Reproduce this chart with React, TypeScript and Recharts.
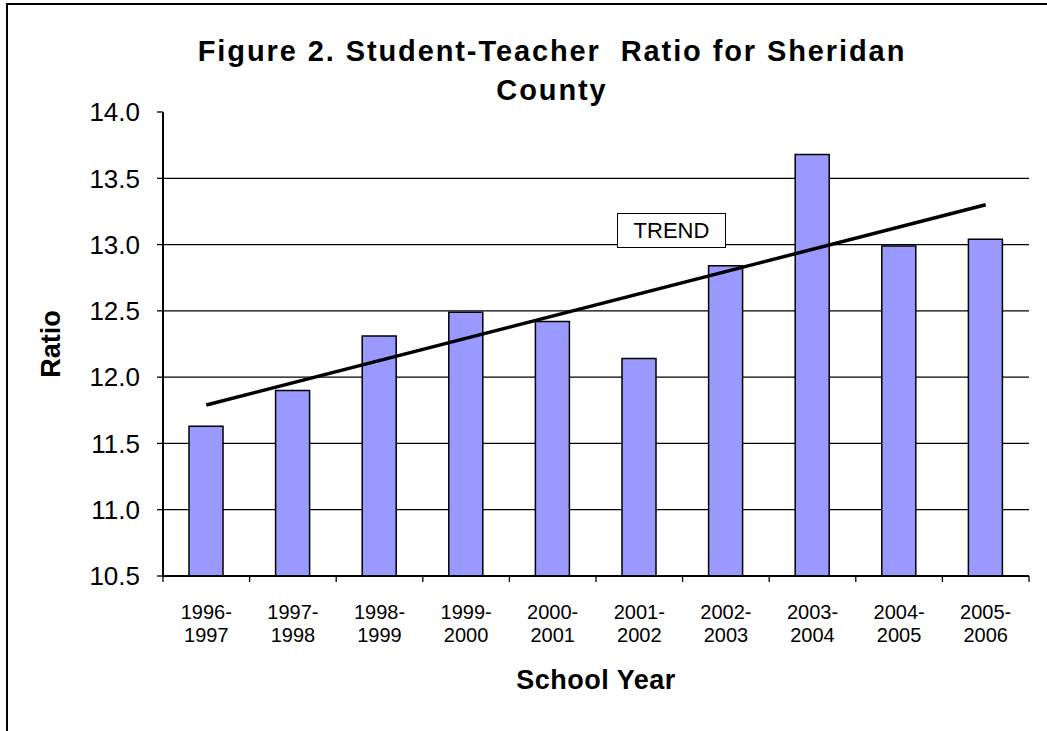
import React from 'react';
import { ComposedChart, Bar, Line, XAxis, YAxis, CartesianGrid } from 'recharts';

// school years
const years = [
  '1996-1997', '1997-1998', '1998-1999', '1999-2000', '2000-2001',
  '2001-2002', '2002-2003', '2003-2004', '2004-2005', '2005-2006',
];
const ratios = [11.63, 11.9, 12.31, 12.49, 12.42, 12.14, 12.84, 13.68, 12.99, 13.04];
// trend line: only the two ends are read, the line joins them
const trend = [11.79, null, null, null, null, null, null, null, null, 13.3];
const yTicks = [10.5, 11, 11.5, 12, 12.5, 13, 13.5, 14];
const gridValues = [11, 11.5, 12, 12.5, 13, 13.5];

const data = years.map((y, i) => ({ year: y, ratio: ratios[i], trend: trend[i] }));

const FONT = "'Liberation Sans', Arial, sans-serif";

// two-line year label, plus the tick marks between categories
const YearTick = (props: any) => {
  const { x, y, payload, index, visibleTicksCount } = props;
  const parts = String(payload.value).split('-');
  const half = payload.offset || 0;
  const last = visibleTicksCount ? index === visibleTicksCount - 1 : index === years.length - 1;
  return (
    <g>
      {half > 0 && <line x1={x - half} x2={x - half} y1={y - 8} y2={y - 2} stroke="#000" strokeWidth={1.3} />}
      {half > 0 && last && (
        <line x1={x + half} x2={x + half} y1={y - 8} y2={y - 2} stroke="#000" strokeWidth={1.3} />
      )}
      <text x={x} y={y} textAnchor="middle" fill="#000" fontSize={20}>
        <tspan x={x} dy={35}>{parts[0] + '-'}</tspan>
        <tspan x={x} dy={23}>{parts[1]}</tspan>
      </text>
    </g>
  );
};

export default function App() {
  return (
    <div
      style={{
        position: 'absolute',
        left: 0,
        top: 0,
        width: 1047,
        height: 731,
        background: '#fff',
        fontFamily: FONT,
        overflow: 'hidden',
      }}
    >
      {/* outer frame, only top and left edges show */}
      <div
        style={{
          position: 'absolute',
          left: 6,
          top: 3,
          width: 1045,
          height: 800,
          borderTop: '2px solid #000',
          borderLeft: '2px solid #000',
        }}
      />
      <div
        style={{
          position: 'absolute',
          left: 52,
          top: 32,
          width: 1000,
          textAlign: 'center',
          fontSize: 29,
          lineHeight: '39px',
          fontWeight: 'bold',
          letterSpacing: 1.9,
          whiteSpace: 'nowrap',
        }}
      >
        Figure 2. Student-Teacher&nbsp; Ratio for Sheridan
        <br />
        County
      </div>

      <ComposedChart
        width={1047}
        height={731}
        data={data}
        margin={{ top: 112, right: 18, bottom: 35, left: 0 }}
        style={{ position: 'absolute', left: 0, top: 0 }}
      >
        <CartesianGrid
          vertical={false}
          horizontalValues={gridValues}
          stroke="#000"
          strokeWidth={1.3}
          yAxisId="left"
        />
        <XAxis
          dataKey="year"
          height={120}
          axisLine={{ stroke: '#000', strokeWidth: 2 }}
          tickLine={false}
          interval={0}
          tick={<YearTick />}
          label={{
            value: 'School Year',
            position: 'insideBottom',
            offset: 7,
            style: { fontSize: 27, fontWeight: 'bold', fill: '#000', letterSpacing: 0.5 },
          }}
        />
        <XAxis
          xAxisId="top"
          orientation="top"
          type="number"
          domain={[0, 1]}
          height={0}
          tick={false}
          tickLine={false}
          axisLine={{ stroke: '#808080', strokeWidth: 1.5 }}
        />
        <YAxis
          yAxisId="left"
          domain={[10.5, 14]}
          ticks={yTicks}
          width={163}
          tickSize={6}
          tickMargin={17}
          tickFormatter={(v: number) => v.toFixed(1)}
          tick={{ fill: '#000', fontSize: 26 }}
          stroke="#000"
          axisLine={{ stroke: '#000', strokeWidth: 2 }}
          tickLine={{ stroke: '#000', strokeWidth: 1.3 }}
          label={{
            value: 'Ratio',
            angle: -90,
            position: 'insideLeft',
            offset: 50,
            style: { fontSize: 27, fontWeight: 'bold', fill: '#000', textAnchor: 'middle' },
          }}
        />
        <YAxis
          yAxisId="right"
          orientation="right"
          domain={[10.5, 14]}
          width={0}
          tick={false}
          tickLine={false}
          axisLine={{ stroke: '#808080', strokeWidth: 2 }}
        />
        <Bar
          dataKey="ratio"
          yAxisId="left"
          barSize={34}
          fill="#9999FF"
          stroke="#000"
          strokeWidth={1.5}
          isAnimationActive={false}
        />
        <Line
          dataKey="trend"
          yAxisId="left"
          stroke="#000"
          strokeWidth={3.5}
          dot={false}
          connectNulls
          type="linear"
          isAnimationActive={false}
        />
      </ComposedChart>

      {/* TREND callout */}
      <div
        style={{
          position: 'absolute',
          left: 617,
          top: 213,
          width: 107,
          height: 33,
          border: '1.5px solid #000',
          background: '#fff',
          fontSize: 22,
          lineHeight: '33px',
          textAlign: 'center',
        }}
      >
        TREND
      </div>
    </div>
  );
}
